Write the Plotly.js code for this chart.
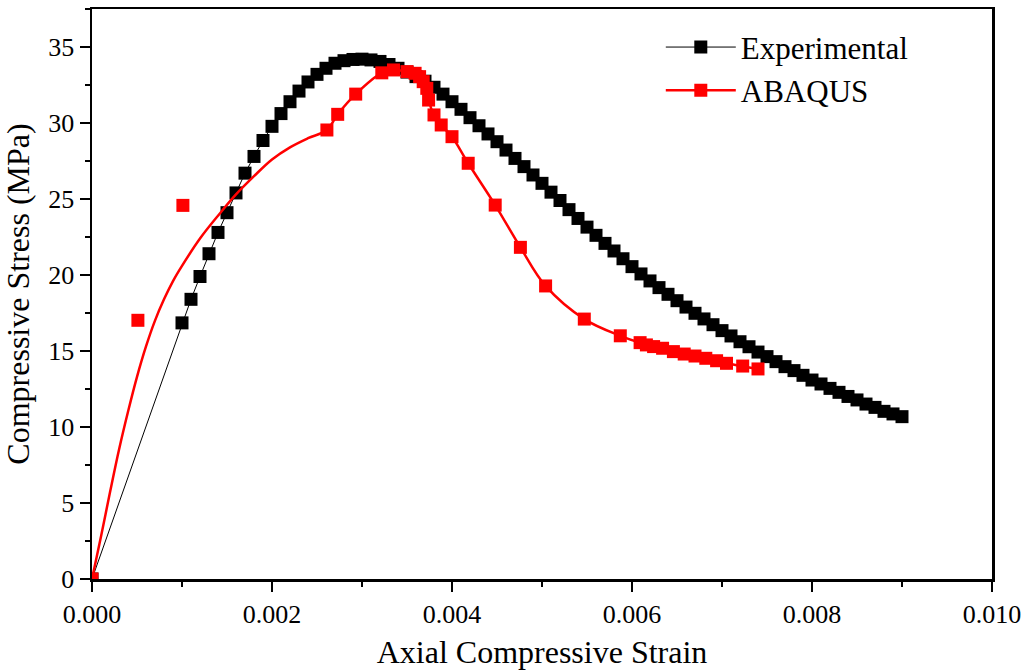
<!DOCTYPE html>
<html>
<head>
<meta charset="utf-8">
<script src="https://cdn.plot.ly/plotly-3.0.1.min.js"></script>
<style>html,body{margin:0;padding:0;background:#fff;}#chart{width:1025px;height:670px;}</style>
</head>
<body>
<div id="chart"></div>
<script>
// Experimental data
var expStrain = [0, 0.0010, 0.0011, 0.0012, 0.0013, 0.0014, 0.0015, 0.0016, 0.0017, 0.0018, 0.0019,
  0.0020, 0.0021, 0.0022, 0.0023, 0.0024, 0.0025, 0.0026, 0.0027, 0.0028, 0.0029,
  0.0030, 0.0031, 0.0032, 0.0033, 0.0034, 0.0035, 0.0036, 0.0037, 0.0038, 0.0039,
  0.0040, 0.0041, 0.0042, 0.0043, 0.0044, 0.0045, 0.0046, 0.0047, 0.0048, 0.0049,
  0.0050, 0.0051, 0.0052, 0.0053, 0.0054, 0.0055, 0.0056, 0.0057, 0.0058, 0.0059,
  0.0060, 0.0061, 0.0062, 0.0063, 0.0064, 0.0065, 0.0066, 0.0067, 0.0068, 0.0069,
  0.0070, 0.0071, 0.0072, 0.0073, 0.0074, 0.0075, 0.0076, 0.0077, 0.0078, 0.0079,
  0.0080, 0.0081, 0.0082, 0.0083, 0.0084, 0.0085, 0.0086, 0.0087, 0.0088, 0.0089,
  0.0090];
var expStress = [0, 16.85, 18.4, 19.9, 21.4, 22.8, 24.1, 25.4, 26.7, 27.8, 28.85,
  29.78, 30.62, 31.4, 32.1, 32.7, 33.2, 33.6, 33.93, 34.1, 34.18,
  34.2, 34.15, 34.05, 33.85, 33.6, 33.35, 33.05, 32.75, 32.35, 31.9,
  31.4, 30.9, 30.35, 29.82, 29.28, 28.77, 28.22, 27.67, 27.13, 26.58,
  26.03, 25.45, 24.9, 24.3, 23.72, 23.15, 22.61, 22.08, 21.58, 21.07,
  20.55, 20.07, 19.61, 19.17, 18.73, 18.31, 17.89, 17.48, 17.11, 16.73,
  16.34, 15.99, 15.61, 15.28, 14.93, 14.63, 14.30, 13.97, 13.71, 13.40,
  13.09, 12.83, 12.54, 12.28, 12.01, 11.78, 11.51, 11.29, 11.03, 10.86,
  10.68];

// ABAQUS markers
var abqStrain = [0, 0.00051, 0.00101, 0.00261, 0.00273, 0.00293, 0.00322, 0.00335, 0.00350, 0.00359,
  0.00364, 0.00368, 0.00372, 0.00374, 0.00380, 0.00388, 0.00400, 0.00418, 0.00448, 0.00476,
  0.00504, 0.00547, 0.00587, 0.00609, 0.00616, 0.00624, 0.00634, 0.00646, 0.00658, 0.00670,
  0.00682, 0.00694, 0.00705, 0.00723, 0.00740];
var abqStress = [0, 17.02, 24.58, 29.54, 30.57, 31.9, 33.3, 33.49, 33.38, 33.27,
  33.05, 32.72, 32.28, 31.51, 30.53, 29.87, 29.1, 27.35, 24.6, 21.82,
  19.28, 17.1, 16.0, 15.55, 15.4, 15.29, 15.18, 14.96, 14.8, 14.67,
  14.52, 14.36, 14.19, 14.01, 13.82];

// ABAQUS fitted curve
var curveStrain = [0, 0.0001, 0.0002, 0.0003, 0.0004, 0.0005, 0.0006, 0.0007, 0.0008, 0.0009,
  0.0010, 0.0012, 0.0014, 0.0016, 0.0018, 0.0020, 0.0022, 0.0024, 0.00261,
  0.00273, 0.00293, 0.00322, 0.00335, 0.0035, 0.00359, 0.00364, 0.00368, 0.00372, 0.00374,
  0.0038, 0.00388, 0.004, 0.00418, 0.00448, 0.00476, 0.00504, 0.00547, 0.00587, 0.00609,
  0.00634, 0.00658, 0.00682, 0.00705, 0.0074];
var curveStress = [0, 2.8, 5.7, 8.5, 11.0, 13.3, 15.3, 17.0, 18.4, 19.6,
  20.6, 22.4, 23.9, 25.3, 26.5, 27.6, 28.4, 29.0, 29.54,
  30.57, 31.9, 33.3, 33.49, 33.38, 33.27, 33.05, 32.72, 32.28, 31.51,
  30.53, 29.87, 29.1, 27.35, 24.6, 21.82, 19.28, 17.1, 16.0, 15.55,
  15.18, 14.8, 14.52, 14.19, 13.82];

var xTickVals = [0, 0.002, 0.004, 0.006, 0.008, 0.010];
var xTickText = ['0.000', '0.002', '0.004', '0.006', '0.008', '0.010'];
var yTickVals = [0, 5, 10, 15, 20, 25, 30, 35];

var FONT = 'Liberation Serif, Times New Roman, serif';

var traces = [
  {
    x: expStrain, y: expStress, type: 'scatter', mode: 'lines+markers', name: 'Experimental',
    line: {color: '#000000', width: 1},
    marker: {symbol: 'square', size: 13, color: '#000000'}
  },
  {
    x: curveStrain, y: curveStress, type: 'scatter', mode: 'lines',
    line: {color: '#ff0000', width: 2.5, shape: 'spline', smoothing: 1},
    showlegend: false, hoverinfo: 'skip'
  },
  {
    x: abqStrain, y: abqStress, type: 'scatter', mode: 'markers', name: 'ABAQUS',
    marker: {symbol: 'square', size: 13, color: '#ff0000'},
    showlegend: false
  },
  {
    x: [null], y: [null], type: 'scatter', mode: 'lines+markers', name: 'ABAQUS',
    line: {color: '#ff0000', width: 2.5},
    marker: {symbol: 'square', size: 13, color: '#ff0000'}
  }
];

var layout = {
  width: 1025, height: 670,
  paper_bgcolor: '#ffffff', plot_bgcolor: '#ffffff',
  margin: {l: 92, r: 33, t: 9, b: 91},
  font: {family: FONT, color: '#000000', size: 26},
  showlegend: true,
  legend: {
    x: 0.632, y: 0.98, xanchor: 'left', yanchor: 'top',
    bgcolor: 'rgba(0,0,0,0)', borderwidth: 0,
    font: {family: FONT, size: 31, color: '#000000'},
    itemwidth: 70, tracegroupgap: 0
  },
  xaxis: {
    range: [0, 0.010], tickmode: 'array', tickvals: xTickVals, ticktext: xTickText,
    ticks: 'outside', ticklen: 10, tickwidth: 2, tickcolor: '#000',
    minor: {dtick: 0.001, ticks: 'outside', ticklen: 5, tickwidth: 2, tickcolor: '#000', showgrid: false},
    showline: true, linewidth: 2.5, linecolor: '#000', mirror: true,
    showgrid: false, zeroline: false,
    tickfont: {family: FONT, size: 26, color: '#000'},
    title: {text: 'Axial Compressive Strain', font: {family: FONT, size: 32, color: '#000'}, standoff: 20}
  },
  yaxis: {
    range: [0, 37.5], tickmode: 'array', tickvals: yTickVals,
    ticks: 'outside', ticklen: 10, tickwidth: 2, tickcolor: '#000',
    minor: {dtick: 2.5, ticks: 'outside', ticklen: 5, tickwidth: 2, tickcolor: '#000', showgrid: false},
    showline: true, linewidth: 2.5, linecolor: '#000', mirror: true,
    showgrid: false, zeroline: false,
    tickfont: {family: FONT, size: 26, color: '#000'},
    title: {text: 'Compressive Stress (MPa)', font: {family: FONT, size: 32, color: '#000'}, standoff: 10}
  }
};

Plotly.newPlot('chart', traces, layout, {displayModeBar: false, staticPlot: true});
</script>
</body>
</html>
